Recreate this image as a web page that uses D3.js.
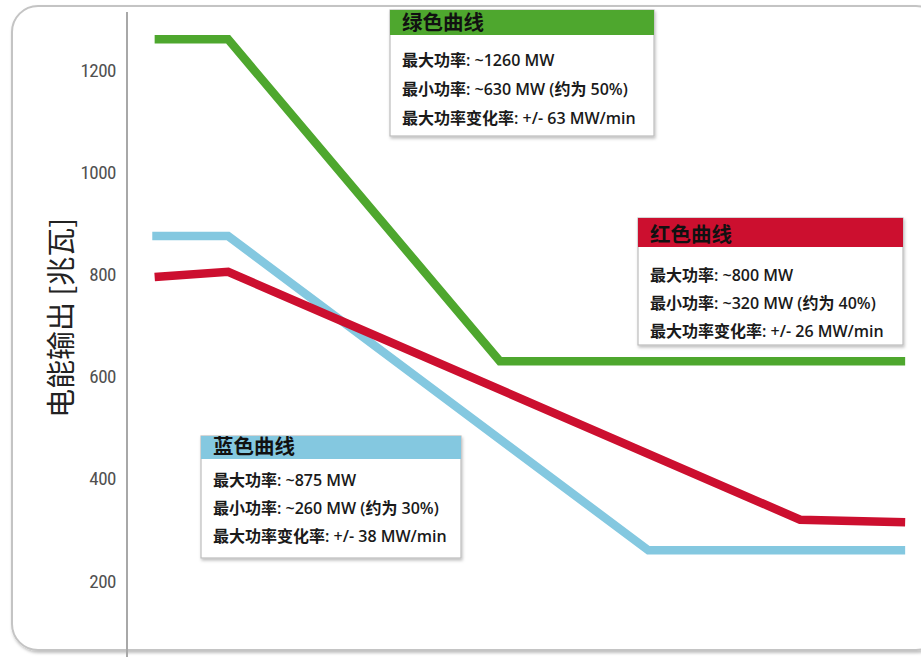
<!DOCTYPE html>
<html>
<head>
<meta charset="utf-8">
<script src="https://cdn.jsdelivr.net/npm/d3@7"></script>
<style>
  html, body { margin: 0; padding: 0; background: #fff; }
  svg { display: block; }
</style>
</head>
<body>
<svg id="chart" width="921" height="657"></svg>
<script>
// ---- data ----
const yTicks = [200, 400, 600, 800, 1000, 1200];
const yLabel = "电能输出 [兆瓦]";

const greenX = [3.5, 12.8, 47.2, 98.5];
const greenY = [1260, 1260, 630, 630];
const blueX  = [3.2, 12.8, 66.0, 98.5];
const blueY  = [875, 875, 260, 260];
const redX   = [3.5, 12.8, 85.2, 98.5];
const redY   = [795, 805, 320, 315];

const greenTitle = "绿色曲线";
const greenLines = ["最大功率: ~1260 MW", "最小功率: ~630 MW (约为 50%)", "最大功率变化率: +/- 63 MW/min"];
const redTitle = "红色曲线";
const redLines = ["最大功率: ~800 MW", "最小功率: ~320 MW (约为 40%)", "最大功率变化率: +/- 26 MW/min"];
const blueTitle = "蓝色曲线";
const blueLines = ["最大功率: ~875 MW", "最小功率: ~260 MW (约为 30%)", "最大功率变化率: +/- 38 MW/min"];

const colors = { green: "#4ea72e", blue: "#84c8e0", red: "#cc0f2f" };

// ---- drawing ----
const svg = d3.select("#chart");
const FONT = "'Open Sans', 'Noto Sans CJK SC', sans-serif";

const defs = svg.append("defs");
const f = defs.append("filter").attr("id", "shadow").attr("x", "-10%").attr("y", "-10%").attr("width", "120%").attr("height", "130%");
f.append("feDropShadow").attr("dx", 1).attr("dy", 2).attr("stdDeviation", 1.5).attr("flood-color", "#000").attr("flood-opacity", 0.25);

// outer rounded frame
svg.append("rect")
  .attr("x", 12).attr("y", 6).attr("width", 930).attr("height", 644)
  .attr("rx", 26).attr("ry", 26)
  .attr("fill", "#fff").attr("stroke", "#c4c4c4").attr("stroke-width", 2)
  .attr("filter", "url(#shadow)");

const x = d3.scaleLinear().domain([0, 100]).range([127, 917]);
const y = d3.scaleLinear().domain([200, 1200]).range([581, 70]);

// axis line
svg.append("line")
  .attr("x1", 127).attr("x2", 127).attr("y1", 12).attr("y2", 657)
  .attr("stroke", "#a8a8a8").attr("stroke-width", 2);

const yAxis = d3.axisLeft(y).tickValues(yTicks).tickSize(0).tickPadding(0).tickFormat(d3.format("d"));
const gy = svg.append("g").attr("transform", "translate(116,0)").call(yAxis);
gy.select(".domain").remove();
gy.selectAll("text")
  .attr("font-family", "'Liberation Sans Narrow', 'Roboto Condensed', 'DejaVu Sans Condensed', sans-serif")
  .attr("font-size", 19).attr("fill", "#505050").attr("letter-spacing", -0.5);

// y label
svg.append("text")
  .attr("transform", "translate(72,318) rotate(-90)")
  .attr("text-anchor", "middle")
  .attr("font-family", "'Noto Sans CJK SC', sans-serif")
  .attr("font-size", 29).attr("fill", "#222")
  .text(yLabel);

// lines
const line = d3.line().x(d => x(d[0])).y(d => y(d[1]));
function drawSeries(xs, ys, color) {
  svg.append("path")
    .datum(xs.map((v, i) => [v, ys[i]]))
    .attr("d", line)
    .attr("fill", "none").attr("stroke", color)
    .attr("stroke-width", 8.5).attr("stroke-linejoin", "miter");
}
drawSeries(blueX, blueY, colors.blue);
drawSeries(redX, redY, colors.red);
drawSeries(greenX, greenY, colors.green);

// info boxes
function infoBox(bx, by, w, headH, h, color, title, lines, lineGap, firstOffset) {
  const g = svg.append("g").attr("transform", `translate(${bx},${by})`);
  g.append("rect").attr("width", w).attr("height", h)
    .attr("fill", "#fff").attr("stroke", "#bdbdbd").attr("stroke-width", 1.2)
    .attr("filter", "url(#shadow)");
  g.append("rect").attr("width", w).attr("height", headH).attr("fill", color);
  g.append("text").attr("x", 12).attr("y", headH - 5)
    .attr("font-family", FONT).attr("font-weight", "bold")
    .attr("font-size", 20.5).attr("fill", "#111").text(title);
  lines.forEach((t, i) => {
    g.append("text").attr("x", 12).attr("y", firstOffset + i * lineGap)
      .attr("font-family", FONT).attr("font-weight", 600)
      .attr("font-size", 16).attr("fill", "#1a1a1a").text(t);
  });
}
infoBox(390, 10, 264, 25, 126, colors.green, greenTitle, greenLines, 29, 56);
infoBox(638, 218, 265, 29, 127, colors.red, redTitle, redLines, 28, 63);
infoBox(201, 436, 260, 23, 122, colors.blue, blueTitle, blueLines, 28, 50);
</script>
</body>
</html>
